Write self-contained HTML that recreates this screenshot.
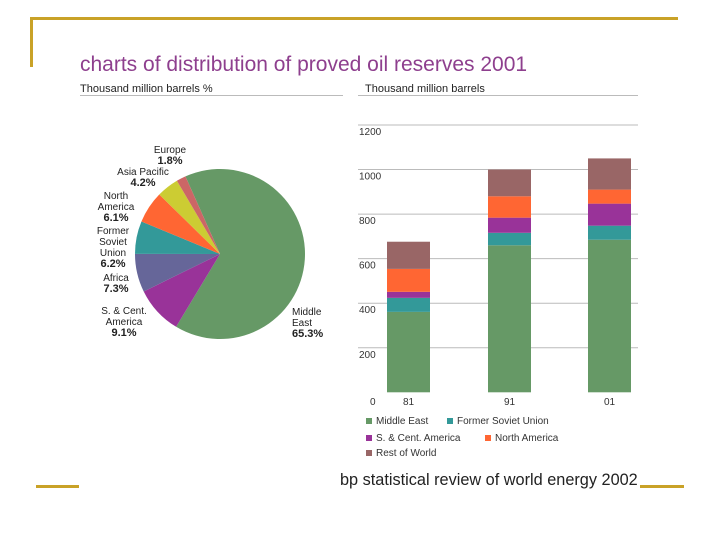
<!DOCTYPE html>
<html><head><meta charset="utf-8"><style>
body{margin:0;background:#fff;width:720px;height:540px;overflow:hidden;font-family:"Liberation Sans",sans-serif;}
svg{display:block}
</style></head><body>
<svg width="720" height="540">
<rect x="30" y="17" width="648" height="3" fill="#c9a227"/>
<rect x="30" y="17" width="3" height="50" fill="#c9a227"/>
<rect x="36" y="485" width="43" height="3" fill="#c9a227"/>
<rect x="640" y="485" width="44" height="3" fill="#c9a227"/>
<text x="80" y="71" font-size="21" fill="#8e3f8e">charts of distribution of proved oil reserves 2001</text>
<text x="80" y="92" font-size="11" fill="#222">Thousand million barrels %</text>
<text x="365" y="92" font-size="11" fill="#222">Thousand million barrels</text>
<line x1="80" y1="95.5" x2="343" y2="95.5" stroke="#bbb"/>
<line x1="358" y1="95.5" x2="638" y2="95.5" stroke="#bbb"/>
<g id="pie"></g>
<g id="bars"></g>
<text x="340" y="485" font-size="16.3" fill="#222">bp statistical review of world energy 2002</text>
</svg>
<script>
const NS="http://www.w3.org/2000/svg";
const pieLabels=["Middle East","S. & Cent. America","Africa","Former Soviet Union","North America","Asia Pacific","Europe"];
const pieValues=[65.3,9.1,7.3,6.2,6.1,4.2,1.8];
const pieColors=["#669966","#993399","#666699","#339999","#ff6633","#cccc33","#cc6666"];
const years=["81","91","01"];
const seriesNames=["Middle East","Former Soviet Union","S. & Cent. America","North America","Rest of World"];
const middleEast=[361,660,685];
const formerSoviet=[63,56,63];
const sCentAmerica=[27,68,99];
const northAmerica=[103,96,63];
const restOfWorld=[122,120,140];
const yTicks=[0,200,400,600,800,1000,1200];
const barColors=["#669966","#339999","#993399","#ff6633","#996666"];

function el(t,a,p){const e=document.createElementNS(NS,t);for(const k in a)e.setAttribute(k,a[k]);p.appendChild(e);return e;}
// pie
const pg=document.getElementById('pie');
const cx=220,cy=254,r=85;
let total=pieValues.reduce((a,b)=>a+b,0);
let ang=-24;
pieValues.forEach((v,i)=>{
  const a0=ang*Math.PI/180,a1=(ang+v/total*360)*Math.PI/180;
  const x0=cx+r*Math.sin(a0),y0=cy-r*Math.cos(a0),x1=cx+r*Math.sin(a1),y1=cy-r*Math.cos(a1);
  const large=(a1-a0)>Math.PI?1:0;
  const p=el('path',{d:`M${cx},${cy}L${x0},${y0}A${r},${r} 0 ${large} 1 ${x1},${y1}Z`,fill:pieColors[i]},pg);
  
  
  ang+=v/total*360;
});
const pieText=[
 [["Europe",0],["1.8%",1]],[170,153],
 [["Asia Pacific",0],["4.2%",1]],[143,175],
 [["North",0],["America",0],["6.1%",1]],[116,199],
 [["Former",0],["Soviet",0],["Union",0],["6.2%",1]],[113,234],
 [["Africa",0],["7.3%",1]],[116,281],
 [["S. & Cent.",0],["America",0],["9.1%",1]],[124,314],
];
for(let i=0;i<pieText.length;i+=2){
  const t=el('text',{x:pieText[i+1][0],y:pieText[i+1][1],'font-size':10,'text-anchor':'middle',fill:'#222'},pg);
  
  
  pieText[i].forEach((l,j)=>{const s=el('tspan',{x:pieText[i+1][0],dy:j?11:0,'font-weight':l[1]?'bold':'normal','font-size':l[1]?11:10},t);s.textContent=l[0];});
}
const me=el('text',{x:292,y:315,'font-size':10,fill:'#222'},pg);


[["Middle",0],["East",0],["65.3%",1]].forEach((l,j)=>{const s=el('tspan',{x:292,dy:j?11:0,'font-weight':l[1]?'bold':'normal','font-size':l[1]?11:10},me);s.textContent=l[0];});

// bars
const bg=document.getElementById('bars');
const y0=392.3,yTop=125,plotL=358,plotR=638;
const ys=v=>y0-(v/1200)*(y0-yTop);
const barX=[387,488,588],bw=43;
yTicks.forEach(t=>{
  if(t>0){const l=el('line',{x1:plotL,x2:plotR,y1:ys(t),y2:ys(t),stroke:'#bbb'},bg);}
  const tx=el('text',{x:t===0?370:359,y:t===0?405:ys(t)+10,'font-size':10,fill:'#333'},bg);
  
  
  tx.textContent=t;
});
const series=[middleEast,formerSoviet,sCentAmerica,northAmerica,restOfWorld];
years.forEach((yr,i)=>{
  let acc=0;
  series.forEach((s,k)=>{
    const rc=el('rect',{x:barX[i],width:bw,y:ys(acc+s[i]),height:ys(acc)-ys(acc+s[i]),fill:barColors[k]},bg);
    
    
    acc+=s[i];
  });
  const tx=el('text',{x:barX[i]+bw/2,y:405,'font-size':10,'text-anchor':'middle',fill:'#333'},bg);
  
  
  tx.textContent=yr;
});
const lp=[[366,424],[447,424],[366,441],[485,441],[366,456]];
seriesNames.forEach((n,k)=>{
  const g=el('g',{},bg);
  
  
  el('rect',{x:lp[k][0],y:lp[k][1]-6,width:6,height:6,fill:barColors[k]},g);
  const t=el('text',{x:lp[k][0]+10,y:lp[k][1],'font-size':10,fill:'#333'},g);t.textContent=n;
});
</script>
</body></html>
